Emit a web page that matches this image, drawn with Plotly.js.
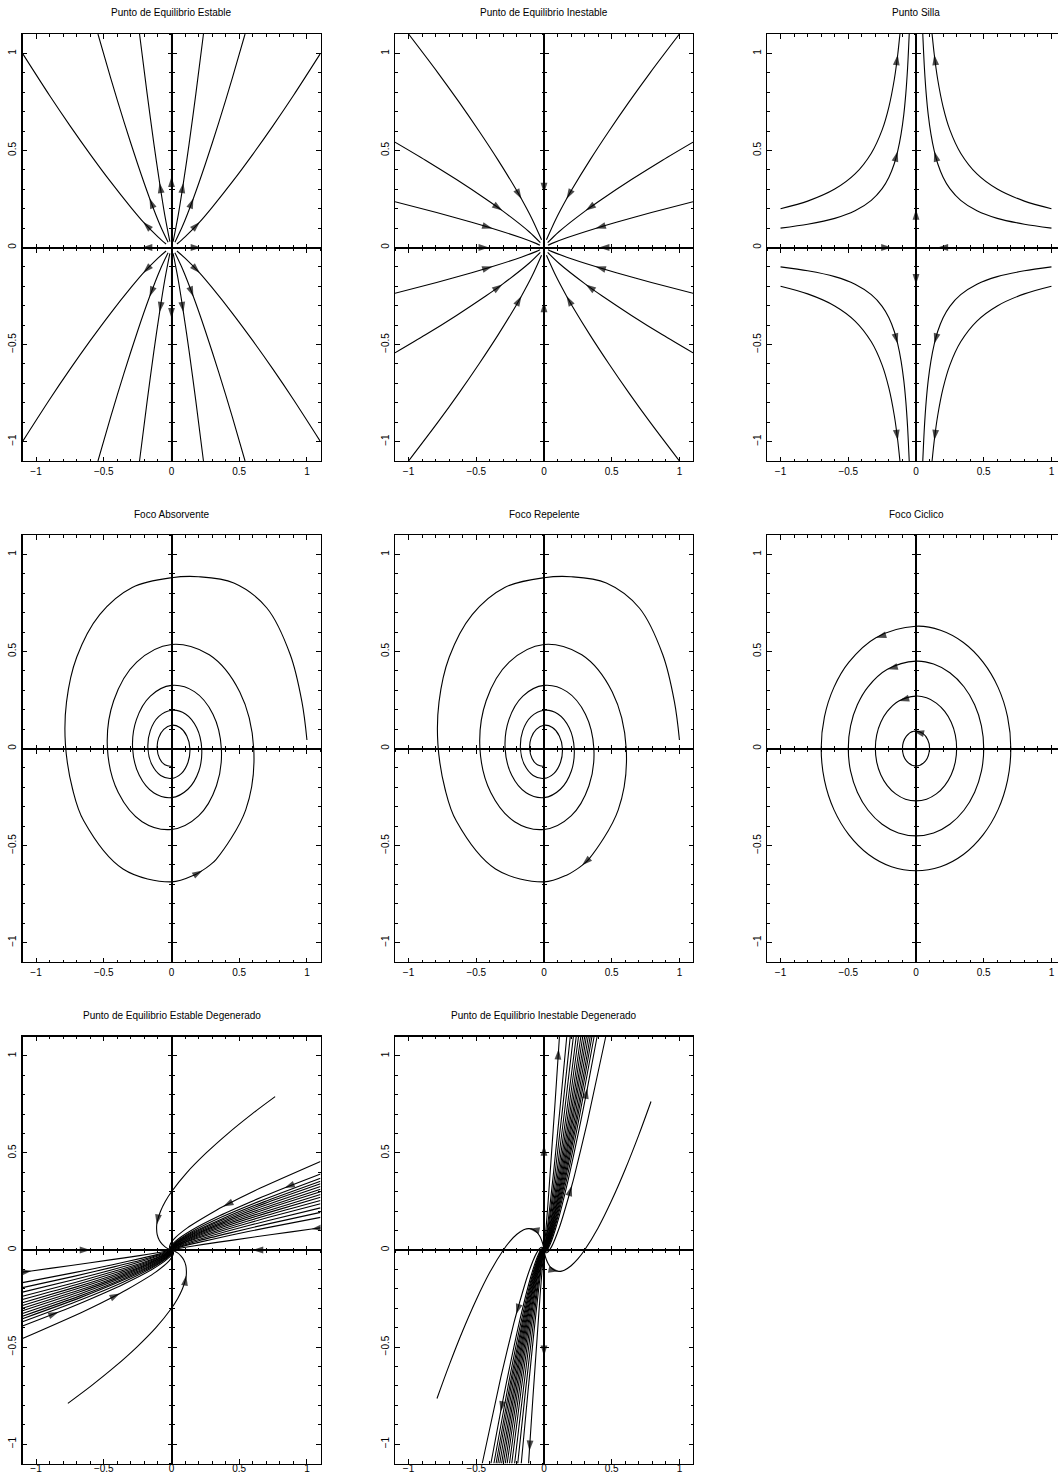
<!DOCTYPE html>
<html><head><meta charset="utf-8">
<script src="https://cdn.plot.ly/plotly-3.0.1.min.js"></script>
<style>html,body{margin:0;padding:0;background:#fff;overflow:hidden}#chart{width:1070px;height:1475px}</style>
</head><body><div id="chart"></div><script>
// ---------------- titles ----------------
const TITLES = [
  "Punto de Equilibrio Estable", "Punto de Equilibrio Inestable", "Punto Silla",
  "Foco Absorvente", "Foco Repelente", "Foco Ciclico",
  "Punto de Equilibrio Estable Degenerado", "Punto de Equilibrio Inestable Degenerado"
];

// ---------------- 1: stable node (first quadrant, read outward from origin) ----------------
const P1_A_X = [0.04, 0.1, 0.209, 0.3, 0.45, 0.6, 0.75, 0.9, 1.1];
const P1_A_Y = [0.018, 0.055, 0.132, 0.207, 0.339, 0.48, 0.628, 0.783, 1.0];
const P1_B_X = [0.025, 0.08, 0.162, 0.25, 0.35, 0.45, 0.543];
const P1_B_Y = [0.027, 0.108, 0.254, 0.43, 0.646, 0.875, 1.1];
const P1_C_X = [0.012, 0.05, 0.088, 0.13, 0.18, 0.236];
const P1_C_Y = [0.03, 0.168, 0.334, 0.534, 0.793, 1.1];
const P1_XRAY_X = [0.04, 0.219, 1.1];
const P1_XRAY_Y = [0, 0, 0];
const P1_YRAY_X = [0, 0, 0];
const P1_YRAY_Y = [0.03, 0.365, 1.1];

// ---------------- 2: unstable node (first quadrant, read inward) ----------------
const P2_A_X = [1.0, 0.783, 0.628, 0.48, 0.339, 0.207, 0.166, 0.09, 0.018];
const P2_A_Y = [1.1, 0.9, 0.75, 0.6, 0.45, 0.3, 0.25, 0.15, 0.04];
const P2_B_X = [1.1, 0.875, 0.646, 0.43, 0.308, 0.108, 0.027];
const P2_B_Y = [0.543, 0.45, 0.35, 0.25, 0.19, 0.08, 0.025];
const P2_C_X = [1.1, 0.793, 0.534, 0.38, 0.168, 0.055, 0.03];
const P2_C_Y = [0.236, 0.18, 0.13, 0.098, 0.05, 0.02, 0.012];
const P2_XRAY_X = [1.1, 0.406, 0.04];
const P2_XRAY_Y = [0, 0, 0];
const P2_YRAY_X = [0, 0, 0];
const P2_YRAY_Y = [1.1, 0.28, 0.03];

// ---------------- 3: saddle (upper-left quadrant) ----------------
const P3_OUT_X = [-1, -0.8, -0.6, -0.45, -0.33, -0.25, -0.2, -0.16, -0.135, -0.118];
const P3_OUT_Y = [0.2, 0.239, 0.301, 0.379, 0.486, 0.606, 0.725, 0.867, 0.993, 1.105];
const P3_IN_X = [-1, -0.8, -0.6, -0.45, -0.33, -0.25, -0.2, -0.16, -0.135, -0.11, -0.09, -0.075, -0.062, -0.05];
const P3_IN_Y = [0.1, 0.12, 0.15, 0.189, 0.243, 0.303, 0.362, 0.433, 0.496, 0.585, 0.686, 0.794, 0.926, 1.1];
const P3_XRAY_X = [-1, -0.18, 0];
const P3_XRAY2_X = [1, 0.16, 0];
const P3_XRAY_Y = [0, 0, 0];
const P3_YRAY_X = [0, 0, 0];
const P3_YRAY_UP = [0, 0.197, 1.1];
const P3_YRAY_DN = [0, -0.19, -1.1];

// ---------------- 4/5: spiral focus ----------------
const SPIRAL_X = [1.0, 0.963, 0.877, 0.704, 0.46, 0.2, 0, -0.29, -0.53, -0.70, -0.775, -0.783, -0.73, -0.647, -0.358, 0, 0.174, 0.229, 0.281, 0.330, 0.548, 0.607, 0.504, 0.279, 0, -0.257, -0.427, -0.473, -0.393, -0.217, 0, 0.200, 0.332, 0.368, 0.306, 0.169, 0, -0.156, -0.259, -0.287, -0.238, -0.132, 0, 0.121, 0.202, 0.223, 0.186, 0.103, 0, -0.095, -0.157, -0.174, -0.145, -0.080, 0, 0.074, 0.122, 0.136, 0.113, 0.062, 0, -0.057, -0.095, -0.106, -0.088, -0.049, 0];
const SPIRAL_Y = [0.044, 0.24, 0.483, 0.724, 0.853, 0.885, 0.88, 0.83, 0.69, 0.47, 0.24, 0.02, -0.21, -0.374, -0.621, -0.687, -0.650, -0.628, -0.602, -0.571, -0.316, 0, 0.291, 0.483, 0.536, 0.445, 0.246, 0, -0.227, -0.377, -0.417, -0.347, -0.192, 0, 0.177, 0.293, 0.325, 0.270, 0.149, 0, -0.138, -0.228, -0.253, -0.210, -0.116, 0, 0.107, 0.178, 0.197, 0.164, 0.091, 0, -0.083, -0.139, -0.154, -0.128, -0.071, 0, 0.065, 0.108, 0.120, 0.099, 0.055, 0, -0.051, -0.084, -0.093];

// ---------------- 6: centre (closed orbits, counter-clockwise) ----------------
const E1_X = [0.7, 0.676, 0.606, 0.495, 0.35, 0.181, 0, -0.296, -0.495, -0.606, -0.676, -0.7, -0.676, -0.606, -0.495, -0.35, -0.181, 0, 0.181, 0.35, 0.495, 0.606, 0.676, 0.7];
const E1_Y = [0, 0.163, 0.315, 0.445, 0.546, 0.609, 0.63, 0.571, 0.445, 0.315, 0.163, 0, -0.163, -0.315, -0.445, -0.546, -0.609, -0.63, -0.609, -0.546, -0.445, -0.315, -0.163, 0];
const E2_X = [0.5, 0.483, 0.433, 0.354, 0.25, 0.13, 0, -0.211, -0.354, -0.433, -0.483, -0.5, -0.483, -0.433, -0.354, -0.25, -0.13, 0, 0.13, 0.25, 0.354, 0.433, 0.483, 0.5];
const E2_Y = [0, 0.117, 0.225, 0.318, 0.39, 0.435, 0.45, 0.408, 0.318, 0.225, 0.117, 0, -0.117, -0.225, -0.318, -0.39, -0.435, -0.45, -0.435, -0.39, -0.318, -0.225, -0.117, 0];
const E3_X = [0.3, 0.29, 0.26, 0.212, 0.15, 0.078, 0, -0.127, -0.212, -0.26, -0.29, -0.3, -0.29, -0.26, -0.212, -0.15, -0.078, 0, 0.078, 0.15, 0.212, 0.26, 0.29, 0.3];
const E3_Y = [0, 0.07, 0.135, 0.191, 0.234, 0.261, 0.27, 0.245, 0.191, 0.135, 0.07, 0, -0.07, -0.135, -0.191, -0.234, -0.261, -0.27, -0.261, -0.234, -0.191, -0.135, -0.07, 0];
const E4_X = [0.1, 0.0866, 0.05, -0.0174, -0.0707, -0.1, -0.0707, 0, 0.0707, 0.1];
const E4_Y = [0, 0.045, 0.078, 0.0886, 0.0636, 0, -0.0636, -0.09, -0.0636, 0];

// ---------------- 7/8: degenerate node (upper-right bundle, read toward origin) ----------------
const DEG_BUNDLE_X = [
  [1.1, 0.656, 0.381, 0.331, 0.117, 0.016, -0.013, -0.012, 0],
  [1.1, 0.833, 0.672, 0.354, 0.139, 0.032, -0.004, -0.008, 0],
  [1.1, 0.678, 0.362, 0.147, 0.038, 0.0, -0.007, 0],
  [1.1, 0.682, 0.368, 0.152, 0.042, 0.002, -0.006, 0],
  [1.1, 0.685, 0.372, 0.157, 0.045, 0.004, -0.005, 0],
  [1.1, 0.688, 0.378, 0.162, 0.049, 0.006, -0.004, 0],
  [1.1, 0.692, 0.383, 0.167, 0.052, 0.008, -0.003, 0],
  [1.1, 0.695, 0.387, 0.171, 0.056, 0.01, -0.002, 0],
  [1.1, 0.699, 0.392, 0.176, 0.059, 0.012, -0.002, 0],
  [1.1, 0.702, 0.397, 0.181, 0.063, 0.014, -0.001, 0],
  [1.1, 0.706, 0.403, 0.187, 0.067, 0.017, 0.0, 0],
  [1.1, 0.711, 0.41, 0.193, 0.071, 0.019, 0.002, 0],
  [1.1, 0.716, 0.417, 0.2, 0.077, 0.023, 0.003, 0],
  [1.1, 0.722, 0.425, 0.208, 0.083, 0.026, 0.004, 0],
  [1.1, 0.728, 0.435, 0.217, 0.089, 0.03, 0.006, 0],
  [1.1, 1.035, 0.742, 0.454, 0.236, 0.103, 0.038, 0.009, 0]
];
const DEG_BUNDLE_Y = [
  [0.456, 0.319, 0.224, 0.205, 0.114, 0.055, 0.023, 0.007, 0],
  [0.392, 0.32, 0.274, 0.176, 0.098, 0.047, 0.02, 0.006, 0],
  [0.37, 0.259, 0.167, 0.093, 0.044, 0.019, 0.006, 0],
  [0.354, 0.248, 0.159, 0.089, 0.043, 0.018, 0.005, 0],
  [0.341, 0.239, 0.153, 0.085, 0.041, 0.017, 0.005, 0],
  [0.327, 0.229, 0.147, 0.082, 0.039, 0.016, 0.005, 0],
  [0.313, 0.219, 0.141, 0.078, 0.038, 0.016, 0.005, 0],
  [0.30, 0.21, 0.135, 0.075, 0.036, 0.015, 0.005, 0],
  [0.286, 0.2, 0.129, 0.072, 0.034, 0.014, 0.004, 0],
  [0.272, 0.19, 0.122, 0.068, 0.033, 0.014, 0.004, 0],
  [0.255, 0.179, 0.115, 0.064, 0.031, 0.013, 0.004, 0],
  [0.238, 0.167, 0.107, 0.06, 0.029, 0.012, 0.004, 0],
  [0.217, 0.152, 0.098, 0.054, 0.026, 0.011, 0.003, 0],
  [0.194, 0.136, 0.087, 0.049, 0.023, 0.01, 0.003, 0],
  [0.168, 0.118, 0.076, 0.042, 0.02, 0.008, 0.003, 0],
  [0.114, 0.108, 0.08, 0.051, 0.029, 0.014, 0.006, 0.002, 0]
];
const DEG_S_X = [0.765, 0.593, 0.416, 0.256, 0.115, 0.0, -0.046, -0.081, -0.104, -0.109, -0.110, -0.106, -0.09, -0.069, -0.045, -0.02, 0];
const DEG_S_Y = [0.79, 0.7, 0.6, 0.5, 0.4, 0.3, 0.25, 0.2, 0.15, 0.13, 0.11, 0.08, 0.05, 0.03, 0.015, 0.005, 0];
const P7_XRAY_X = [1.1, 0.6, 0];
const P7_XRAY_Y = [0, 0, 0];
const P8_YRAY_X = [0, 0, 0];
const P8_YRAY_UP = [0, 0.54, 1.1];
const P8_YRAY_DN = [0, -0.546, -1.1];

// ---------------- layout geometry ----------------
const W = 1070, H = 1475;
const PW = 298, PH = 427;
const COL_L = [22.5, 395, 767];
const ROW_T = [34, 535, 1036.5];
const ARROW_SIZE = 11;
const FONT = 'Liberation Sans, Arial, Helvetica, sans-serif';

const traces = [];
function id(sub, letter) { return sub === 1 ? letter : letter + sub; }
function curve(sub, xs, ys, arrows, smooth) {
  const sizes = xs.map((_, i) => (arrows.indexOf(i) >= 0 ? ARROW_SIZE : 0));
  traces.push({
    type: 'scatter', mode: 'lines+markers', x: xs, y: ys,
    xaxis: id(sub, 'x'), yaxis: id(sub, 'y'),
    line: {color: '#000', width: 1.1, shape: 'spline', smoothing: smooth || 0.8},
    marker: {symbol: 'arrow', size: sizes, angleref: 'previous', color: '#000', line: {width: 0}},
    hoverinfo: 'skip', showlegend: false
  });
}
const neg = (a, s) => a.map(v => s * v);
const QUADS = [[1, 1], [-1, 1], [1, -1], [-1, -1]];

// plot 1
QUADS.forEach(([sx, sy]) => {
  curve(1, neg(P1_A_X, sx), neg(P1_A_Y, sy), [2]);
  curve(1, neg(P1_B_X, sx), neg(P1_B_Y, sy), [2]);
  curve(1, neg(P1_C_X, sx), neg(P1_C_Y, sy), [2]);
});
[1, -1].forEach(s => {
  curve(1, neg(P1_XRAY_X, s), P1_XRAY_Y, [1]);
  curve(1, P1_YRAY_X, neg(P1_YRAY_Y, s), [1]);
});
// plot 2
QUADS.forEach(([sx, sy]) => {
  curve(2, neg(P2_A_X, sx), neg(P2_A_Y, sy), [6]);
  curve(2, neg(P2_B_X, sx), neg(P2_B_Y, sy), [4]);
  curve(2, neg(P2_C_X, sx), neg(P2_C_Y, sy), [3]);
});
[1, -1].forEach(s => {
  curve(2, neg(P2_XRAY_X, s), P2_XRAY_Y, [1]);
  curve(2, P2_YRAY_X, neg(P2_YRAY_Y, s), [1]);
});
// plot 3
QUADS.forEach(([sx, sy]) => {
  curve(3, neg(P3_OUT_X, sx), neg(P3_OUT_Y, sy), [8]);
  curve(3, neg(P3_IN_X, sx), neg(P3_IN_Y, sy), [8]);
});
curve(3, P3_XRAY_X, P3_XRAY_Y, [1]);
curve(3, P3_XRAY2_X, P3_XRAY_Y, [1]);
curve(3, P3_YRAY_X, P3_YRAY_UP, [1]);
curve(3, P3_YRAY_X, P3_YRAY_DN, [1]);
// plot 4 (inward) and 5 (same orbit traversed outward)
curve(4, SPIRAL_X, SPIRAL_Y, [17], 1.0);
curve(5, SPIRAL_X.slice().reverse(), SPIRAL_Y.slice().reverse(), [SPIRAL_X.length - 1 - 18], 1.0);
// plot 6
curve(6, E1_X, E1_Y, [7], 1.1);
curve(6, E2_X, E2_Y, [7], 1.1);
curve(6, E3_X, E3_Y, [7], 1.1);
curve(6, E4_X, E4_Y, [3], 1.1);
// plot 7
const P7_ARROWS = {0: [2], 1: [1], 15: [1]};
const P8_ARROWS = {0: [3], 1: [1], 15: [1]};
[1, -1].forEach(s => {
  DEG_BUNDLE_X.forEach((xs, i) => curve(7, neg(xs, s), neg(DEG_BUNDLE_Y[i], s), P7_ARROWS[i] || [], 0.6));
  curve(7, neg(DEG_S_X, s), neg(DEG_S_Y, s), [9], 1);
  curve(7, neg(P7_XRAY_X, s), P7_XRAY_Y, [1]);
});
// plot 8: mirror image of plot 7 across y = x, traversed outward
[1, -1].forEach(s => {
  DEG_BUNDLE_X.forEach((xs, i) => {
    const n = xs.length;
    const arr = (P8_ARROWS[i] || []).map(k => n - 1 - k);
    curve(8, neg(DEG_BUNDLE_Y[i], s).reverse(), neg(xs, s).reverse(), arr, 0.6);
  });
  curve(8, neg(DEG_S_Y, s).reverse(), neg(DEG_S_X, s).reverse(), [DEG_S_X.length - 1 - 10], 1);
  curve(8, P8_YRAY_X, s > 0 ? P8_YRAY_UP : P8_YRAY_DN, [1]);
});

// ---------------- axes ----------------
const layout = {
  width: W, height: H, margin: {l: 0, r: 0, t: 0, b: 0},
  paper_bgcolor: '#fff', plot_bgcolor: 'rgba(0,0,0,0)', showlegend: false,
  annotations: []
};
function tickCommon() {
  return {tick0: 0, dtick: 0.5, tickwidth: 1, tickcolor: '#000'};
}
for (let s = 1; s <= 8; s++) {
  const col = (s - 1) % 3, row = Math.floor((s - 1) / 3);
  const L = COL_L[col], T = ROW_T[row];
  const xd = [L / W, (L + PW) / W];
  const yd = [1 - (T + PH) / H, 1 - T / H];
  const base = Object.assign({
    range: [-1.1, 1.1], autorange: false, fixedrange: true,
    showline: true, linecolor: '#000', linewidth: 1.3, mirror: 'ticks',
    ticks: 'inside', ticklen: 4.5,
    minor: {ticks: 'inside', tick0: 0, dtick: 0.1, ticklen: 2.5, tickwidth: 1, tickcolor: '#000', showgrid: false},
    showgrid: false, zeroline: true, zerolinecolor: '#000', zerolinewidth: 2,
    tickfont: {family: FONT, size: 10, color: '#000'}
  }, tickCommon());
  layout['xaxis' + (s === 1 ? '' : s)] = Object.assign({}, base, {domain: xd, anchor: id(s, 'y'), ticklabelstandoff: row === 2 ? -5 : 1});
  layout['yaxis' + (s === 1 ? '' : s)] = Object.assign({}, base, {domain: yd, anchor: id(s, 'x'), tickangle: -90, ticklabelstandoff: 1});
  // ticks crossing the zero lines
  const yc = 1 - (T + PH / 2) / H, xc = (L + PW / 2) / W;
  ['outside', 'inside'].forEach((dir, k) => {
    const n = 8 + s + k * 8;
    const cross = Object.assign({
      range: [-1.1, 1.1], autorange: false, fixedrange: true, anchor: 'free',
      showline: false, zeroline: false, showgrid: false, showticklabels: false,
      ticks: dir, ticklen: 4,
      minor: {ticks: dir, tick0: 0, dtick: 0.1, ticklen: 2.2, tickwidth: 1, tickcolor: '#000', showgrid: false}
    }, tickCommon());
    layout['xaxis' + n] = Object.assign({}, cross, {overlaying: id(s, 'x'), position: yc, side: 'bottom'});
    layout['yaxis' + n] = Object.assign({}, cross, {overlaying: id(s, 'y'), position: xc, side: 'left'});
    // empty carriers so that the crossing axes are drawn
    traces.push({type: 'scatter', mode: 'lines', x: [], y: [], xaxis: 'x' + n, yaxis: id(s, 'y'), showlegend: false, hoverinfo: 'skip'});
    traces.push({type: 'scatter', mode: 'lines', x: [], y: [], xaxis: id(s, 'x'), yaxis: 'y' + n, showlegend: false, hoverinfo: 'skip'});
  });
  layout.annotations.push({
    text: TITLES[s - 1], xref: 'paper', yref: 'paper', x: (L + PW / 2) / W, y: 1 - (T - 21) / H,
    xanchor: 'center', yanchor: 'middle', showarrow: false, font: {family: FONT, size: 10, color: '#000'}
  });
}

Plotly.newPlot('chart', traces, layout, {staticPlot: true, displayModeBar: false});
</script></body></html>
